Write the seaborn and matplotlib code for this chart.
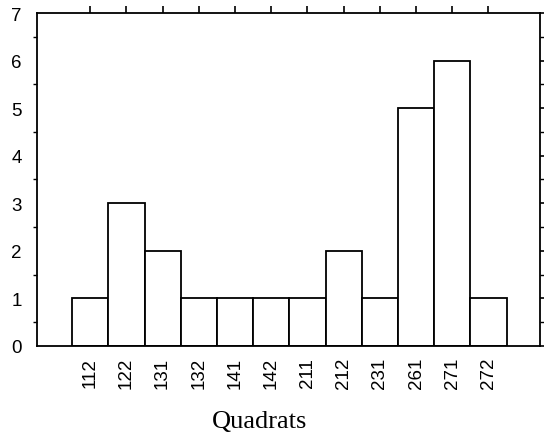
import pandas as pd
import matplotlib
matplotlib.use('Agg')
import matplotlib.pyplot as plt
from matplotlib.ticker import MultipleLocator
import seaborn as sns

# 数据
quadrats = ['112', '122', '131', '132', '141', '142', '211', '212', '231', '261', '271', '272']
counts = [1, 3, 2, 1, 1, 1, 1, 2, 1, 5, 6, 1]

data = pd.DataFrame({'Quadrat': quadrats, 'Count': counts})

sns.set_style('white')
plt.rcParams['font.family'] = ['Liberation Sans', 'DejaVu Sans']
plt.rcParams['text.color'] = 'black'
plt.rcParams['xtick.color'] = 'black'
plt.rcParams['ytick.color'] = 'black'
plt.rcParams['axes.labelcolor'] = 'black'

fig = plt.figure(figsize=(5.44, 4.39), dpi=100)
ax = fig.add_axes([0.068, 0.21, 0.925, 0.758])

# 柱状图, 无间隙
sns.barplot(x='Quadrat', y='Count', data=data, order=quadrats, color='white',
            edgecolor='black', linewidth=1.3, width=1.0, errorbar=None, ax=ax)

ax.set_xlim(-1.47, 12.43)
ax.set_ylim(0, 7)
ax.yaxis.set_major_locator(MultipleLocator(1))
ax.yaxis.set_minor_locator(MultipleLocator(0.5))

for s in ax.spines.values():
    s.set_visible(True)
    s.set_color('black')
    s.set_linewidth(1.3)

ax.tick_params(axis='both', which='both', direction='out',
               top=True, right=True, labeltop=False, labelright=False)
ax.tick_params(axis='both', which='major', length=5, width=1.2, labelsize=13.5)
ax.tick_params(axis='y', which='minor', length=3, width=1.0, left=True, right=True)
ax.tick_params(axis='y', which='major', pad=6)
ax.tick_params(axis='x', which='major', pad=3)
plt.setp(ax.get_xticklabels(), rotation=90)

ax.set_ylabel('')
ax.set_xlabel('Quadrats', family=['Liberation Serif', 'DejaVu Serif'], fontsize=19)
ax.xaxis.label.set_va('baseline')
ax.xaxis.set_label_coords(0.443, -0.243)

plt.savefig('out.png', dpi=100)
